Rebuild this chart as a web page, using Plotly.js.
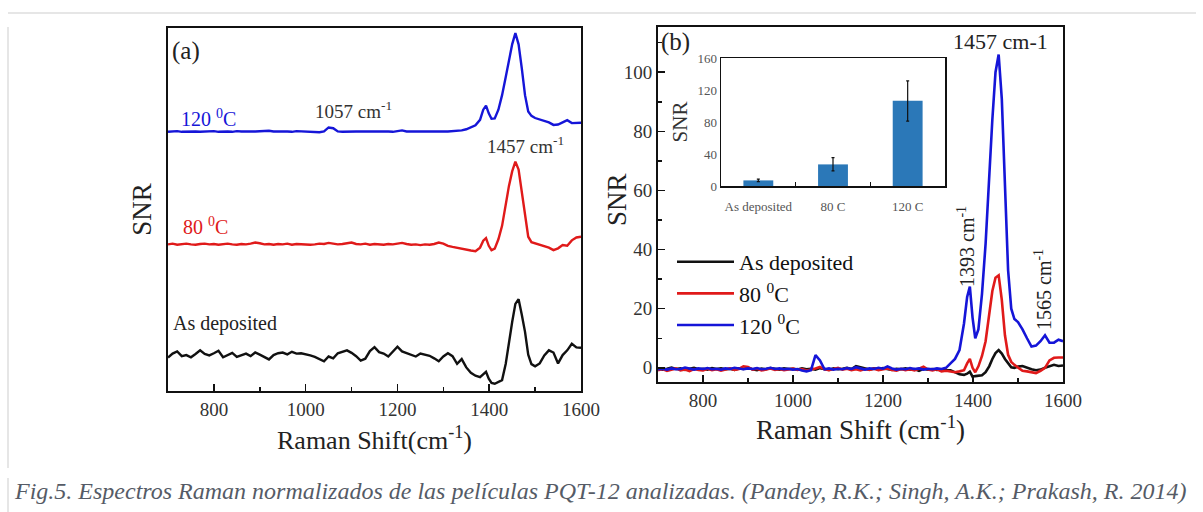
<!DOCTYPE html>
<html><head><meta charset="utf-8">
<script src="https://cdn.plot.ly/plotly-3.0.1.min.js"></script>
<style>html,body{margin:0;padding:0;background:#fff;} #chart{width:1203px;height:512px;}</style>
</head><body><div id="chart"></div>
<script>
// Raman shift grid (cm^-1)
const shift = [700,710,720,730,740,750,760,770,780,790,
800,810,820,830,840,850,860,870,880,890,
900,910,920,930,940,950,960,970,980,990,
1000,1010,1020,1030,1040,1050,1060,1070,1080,1090,
1100,1110,1120,1130,1140,1150,1160,1170,1180,1190,
1200,1210,1220,1230,1240,1250,1260,1270,1280,1290,
1300,1310,1320,1330,1340,1350,1360,1370,1380,
1387,1393,1399,1405,1412,1420,1428,1436,1443,1450,1457,1464,1471,1478,1485,1492,1500,
1510,1520,1530,1540,1550,1560,1570,1580,1590,1600];

// Panel (a): offset normalized spectra (arbitrary offset units)
const a120 = [71.4,71.5,71.6,71.4,71.5,71.6,71.5,71.4,71.5,71.5,
71.6,71.4,71.5,71.5,71.4,71.6,71.5,71.4,71.5,71.5,
71.6,71.5,71.7,71.5,71.4,71.5,71.5,71.4,71.6,71.5,
71.4,71.5,71.4,71.3,71.5,72.6,72.4,71.5,71.4,71.5,
71.4,71.5,71.5,71.4,71.5,71.5,71.4,71.5,71.5,71.4,
71.6,71.8,71.5,71.4,71.5,71.5,71.4,71.5,71.5,71.4,
71.5,71.5,71.6,71.6,71.8,72.1,72.6,73.2,74.7,
77.5,78.6,76.5,75.0,75.1,77.5,81.5,86.5,91.0,95.5,98.6,95.5,88.9,81.5,77.0,75.8,75.2,
74.8,74.3,74.0,73.3,73.4,74.0,74.6,73.8,73.8,73.9];
const a80 = [40.4,40.6,40.3,40.5,40.6,40.4,40.3,40.5,40.6,40.4,
40.5,40.3,40.5,40.6,40.4,40.3,40.5,40.4,40.6,40.9,
40.7,40.4,40.5,40.3,40.5,40.4,40.6,40.3,40.5,40.4,
40.5,40.3,40.4,40.6,40.5,40.8,40.6,40.4,40.5,40.7,
40.9,40.5,40.4,40.6,40.3,40.5,40.4,40.3,40.5,40.4,
40.6,40.8,40.5,40.3,40.4,40.2,40.4,40.3,40.5,40.9,
40.6,40.0,39.7,39.4,39.2,39.0,38.7,38.5,39.5,
41.4,42.1,40.0,38.8,39.2,41.8,45.5,51.5,56.5,60.5,63.2,61.0,55.0,48.0,42.5,41.0,40.7,
40.3,39.8,39.5,38.8,39.3,40.2,40.0,41.5,42.3,42.5];
const aAsDep = [9.2,10.3,10.9,9.6,9.9,9.3,10.2,11.2,10.2,9.8,
10.4,11.1,9.3,9.9,10.5,9.4,9.9,10.3,9.6,10.6,
10.0,9.4,8.7,9.9,10.4,10.6,10.1,10.8,10.3,10.4,
10.2,9.8,9.4,8.9,8.2,9.5,9.0,10.4,10.8,11.2,
10.5,9.6,8.4,8.9,11.0,12.1,10.7,10.3,9.5,10.8,
12.2,10.9,10.4,9.8,9.5,10.3,9.9,9.7,9.0,8.2,
9.5,10.4,9.6,7.5,8.8,6.5,5.0,4.2,3.8,
4.5,5.3,3.4,2.2,2.0,2.6,3.0,7.5,13.5,19.0,24.0,25.3,21.0,16.3,10.0,7.4,6.8,
7.6,9.8,11.2,10.6,7.6,9.9,11.2,13.0,12.0,11.9];

// Panel (b): SNR spectra
const b120 = [-0.5,-0.3,-0.6,-0.2,-0.5,-0.4,0.1,-0.3,-0.6,-0.2,
-0.4,-0.1,-0.5,-0.3,-0.6,-0.2,-0.4,0.0,-0.3,-0.5,
-0.2,-0.4,-0.1,-0.5,-0.3,0.0,-0.4,-0.2,-0.5,-0.3,
-0.6,-0.4,-0.9,-1.2,-0.8,4.3,2.5,-0.5,-0.2,-0.6,
-0.3,-0.5,-0.1,-0.4,0.2,-0.3,-0.6,-0.2,-0.4,0.0,
-0.3,0.5,-0.2,-0.6,-0.3,-0.5,-0.1,-0.4,-0.2,-0.6,
-0.3,-0.5,-0.2,-0.4,0.0,1.5,3.0,6.0,15.0,
24.0,27.5,17.0,10.0,13.0,25.0,42.0,65.0,84.0,100.0,106.0,91.0,59.6,33.0,20.0,16.5,15.5,
13.0,10.0,7.2,7.5,9.0,11.0,8.5,8.5,9.5,9.0];
const b80 = [-0.8,-0.4,-1.0,-0.5,-0.2,-0.9,-0.6,-1.1,-0.4,-0.7,
-0.9,-0.3,-0.8,-0.5,-1.0,-0.6,-0.2,-0.7,-0.4,0.5,
0.3,-0.6,-0.3,-0.9,-0.5,-0.2,-0.7,-0.4,-0.8,-0.5,
-0.3,-0.7,-0.4,-0.9,-0.6,-0.2,0.3,-0.5,-0.8,-0.4,
0.0,-0.6,-0.3,-0.8,-0.5,-0.9,-0.4,-0.7,-0.3,-0.8,
-0.5,-0.2,-0.7,-1.0,-0.4,-0.8,-0.5,-0.9,-0.3,0.4,
-0.6,-0.9,-0.5,-1.2,-1.0,-1.3,-1.5,-1.2,-0.8,
1.5,3.0,0.0,-1.5,0.5,4.0,9.0,19.0,26.0,30.5,31.3,23.0,11.0,4.4,2.0,1.0,0.0,
-1.0,-1.2,-1.5,-1.8,-1.0,0.0,2.5,3.4,3.5,3.5];
const bAsDep = [-0.2,-0.6,-0.3,0.1,-0.4,-0.2,-0.7,-0.3,0.0,-0.5,
-0.3,-0.6,-0.1,-0.4,-0.2,-0.5,-0.3,-0.7,-0.2,-0.4,
0.0,-0.5,-0.8,-0.3,-0.5,-0.1,-0.4,-0.6,-0.2,-0.4,
-0.3,-0.6,-0.2,-0.5,-0.3,-0.6,-0.1,-0.4,-0.7,-0.2,
-0.5,-0.3,0.0,-0.4,0.6,0.2,-0.3,-0.6,-0.2,-0.5,
-0.1,-0.4,-0.7,-0.3,-0.5,-0.2,-0.6,-0.4,-1.0,-0.3,
-0.6,-0.4,-0.7,-0.5,-0.8,-0.8,-1.5,-2.2,-2.4,
-2.0,-1.3,-3.0,-2.8,-2.6,-2.5,-1.5,0.5,3.0,5.0,6.0,4.8,3.0,1.5,0.2,0.0,0.4,
0.6,0.0,-0.5,-0.8,-0.6,0.0,0.5,1.0,0.6,0.8];

// Inset bar chart
const insetCats = ['As deposited', '80 C', '120 C'];
const insetSNR = [7, 27, 106.5];
const insetErrPlus = [1.5, 8.5, 25];
const insetErrMinus = [1.5, 8, 25.5];

const BLUE = '#1515d8', RED = '#e01a1a', BLACK = '#111111';
const SERIF = 'Liberation Serif';
const W = 1203, H = 512;
const px = v => v / W, py = v => 1 - v / H;

const traces = [
  {x: shift, y: a120, xaxis: 'x', yaxis: 'y', mode: 'lines', line: {color: BLUE, width: 2.4}, showlegend: false, name: '120 °C (a)'},
  {x: shift, y: a80, xaxis: 'x', yaxis: 'y', mode: 'lines', line: {color: RED, width: 2.4}, showlegend: false, name: '80 °C (a)'},
  {x: shift, y: aAsDep, xaxis: 'x', yaxis: 'y', mode: 'lines', line: {color: BLACK, width: 2.4}, showlegend: false, name: 'As deposited (a)'},
  {x: shift, y: bAsDep, xaxis: 'x2', yaxis: 'y2', mode: 'lines', line: {color: BLACK, width: 2.6}, name: 'As deposited'},
  {x: shift, y: b80, xaxis: 'x2', yaxis: 'y2', mode: 'lines', line: {color: RED, width: 2.6}, name: '80 <sup>0</sup>C'},
  {x: shift, y: b120, xaxis: 'x2', yaxis: 'y2', mode: 'lines', line: {color: BLUE, width: 2.6}, name: '120 <sup>0</sup>C'},
  {type: 'bar', x: insetCats, y: insetSNR, xaxis: 'x3', yaxis: 'y3', width: 0.4,
   marker: {color: '#2b78b8', line: {width: 0}}, showlegend: false,
   error_y: {type: 'data', array: insetErrPlus, arrayminus: insetErrMinus, visible: true, color: '#111', thickness: 1.2, width: 1.5}}
];

const frameAxis = {showline: true, linewidth: 2, linecolor: '#111', mirror: true, showgrid: false, zeroline: false};
const tickFont = {family: SERIF, size: 19, color: '#333'};

const layout = {
  width: W, height: H, margin: {l: 0, r: 0, t: 0, b: 0},
  paper_bgcolor: '#ffffff', plot_bgcolor: 'rgba(0,0,0,0)',
  font: {family: SERIF, color: '#222'},
  showlegend: true,
  legend: {x: px(672), y: py(241), xanchor: 'left', yanchor: 'top', bgcolor: 'rgba(0,0,0,0)',
           font: {family: SERIF, size: 22, color: '#111'}, itemwidth: 57, tracegroupgap: 0},
  xaxis: Object.assign({}, frameAxis, {
    domain: [px(168), px(581)], range: [700, 1600], anchor: 'y',
    ticks: 'inside', ticklen: 7, tickwidth: 1.5, tickcolor: '#111', tick0: 0, dtick: 200,
    minor: {ticks: 'inside', ticklen: 4, tickwidth: 1.5, tickcolor: '#111', tick0: 0, dtick: 100},
    tickfont: tickFont,
    title: {text: 'Raman Shift(cm<sup>-1</sup>)', font: {family: SERIF, size: 26, color: '#222'}, standoff: 12}
  }),
  yaxis: Object.assign({}, frameAxis, {
    domain: [py(391), py(28)], range: [0, 100], anchor: 'x',
    showticklabels: false, ticks: '',
    title: {text: 'SNR', font: {family: SERIF, size: 27, color: '#222'}, standoff: 7}
  }),
  xaxis2: Object.assign({}, frameAxis, {
    domain: [px(658), px(1063)], range: [700, 1600], anchor: 'y2',
    ticks: 'inside', ticklen: 7, tickwidth: 1.5, tickcolor: '#111', tick0: 0, dtick: 200,
    minor: {ticks: 'inside', ticklen: 4, tickwidth: 1.5, tickcolor: '#111', tick0: 0, dtick: 100},
    tickfont: tickFont,
    title: {text: 'Raman Shift (cm<sup>-1</sup>)', font: {family: SERIF, size: 27, color: '#222'}, standoff: 9}
  }),
  yaxis2: Object.assign({}, frameAxis, {
    domain: [py(382), py(27)], range: [-4.8, 115.3], anchor: 'x2',
    ticks: 'inside', ticklen: 7, tickwidth: 1.5, tickcolor: '#111', tick0: 0, dtick: 20,
    minor: {ticks: 'inside', ticklen: 4, tickwidth: 1.5, tickcolor: '#111', tick0: 0, dtick: 10},
    tickfont: tickFont
  }),
  xaxis3: {
    domain: [px(721), px(945)], anchor: 'y3', type: 'category', range: [-0.5, 2.5],
    showline: true, linewidth: 1.5, linecolor: '#111', mirror: true, showgrid: false, zeroline: false,
    tickson: 'boundaries', ticks: 'inside', ticklen: 4, tickwidth: 1.5, tickcolor: '#111', tickangle: 0,
    tickfont: {family: SERIF, size: 13, color: '#555'}, ticklabelstandoff: 8
  },
  yaxis3: {
    domain: [py(186), py(58)], anchor: 'x3', range: [0, 160], dtick: 40,
    showline: true, linewidth: 1.5, linecolor: '#111', mirror: true, showgrid: false, zeroline: false,
    ticks: '', tickfont: {family: SERIF, size: 13, color: '#555'},
    title: {text: 'SNR', font: {family: SERIF, size: 21, color: '#333'}, standoff: 4}
  },
  shapes: [
    {type: 'line', xref: 'paper', yref: 'paper', x0: px(8), x1: px(1196), y0: py(13), y1: py(13), line: {color: '#e6e6e6', width: 2}, layer: 'below'},
    {type: 'line', xref: 'paper', yref: 'paper', x0: px(8), x1: px(8), y0: py(27), y1: py(468), line: {color: '#e6e6e6', width: 2}, layer: 'below'},
    {type: 'line', xref: 'paper', yref: 'paper', x0: px(8), x1: px(8), y0: py(478), y1: py(512), line: {color: '#e6e6e6', width: 2}, layer: 'below'}
  ],
  annotations: [
    {text: 'SNR', xref: 'paper', yref: 'paper', x: px(617), y: py(200), xanchor: 'center', yanchor: 'middle', textangle: -90, showarrow: false, font: {family: SERIF, size: 27, color: '#222'}},
    {text: '(a)', xref: 'paper', yref: 'paper', x: px(170), y: py(51), xanchor: 'left', yanchor: 'middle', showarrow: false, font: {family: SERIF, size: 25, color: '#222'}},
    {text: '120 <sup>0</sup>C', xref: 'paper', yref: 'paper', x: px(179), y: py(118), xanchor: 'left', yanchor: 'middle', showarrow: false, font: {family: SERIF, size: 20, color: BLUE}},
    {text: '1057 cm<sup>-1</sup>', xref: 'paper', yref: 'paper', x: px(353), y: py(110), xanchor: 'center', yanchor: 'middle', showarrow: false, font: {family: SERIF, size: 19, color: '#333'}},
    {text: '1457 cm<sup>-1</sup>', xref: 'paper', yref: 'paper', x: px(525), y: py(145), xanchor: 'center', yanchor: 'middle', showarrow: false, font: {family: SERIF, size: 19, color: '#333'}},
    {text: '80 <sup>0</sup>C', xref: 'paper', yref: 'paper', x: px(181), y: py(226), xanchor: 'left', yanchor: 'middle', showarrow: false, font: {family: SERIF, size: 20, color: RED}},
    {text: 'As deposited', xref: 'paper', yref: 'paper', x: px(171), y: py(323), xanchor: 'left', yanchor: 'middle', showarrow: false, font: {family: SERIF, size: 20, color: '#222'}},
    {text: '(b)', xref: 'paper', yref: 'paper', x: px(659), y: py(42), xanchor: 'left', yanchor: 'middle', showarrow: false, font: {family: SERIF, size: 25, color: '#222'}},
    {text: '1457 cm-1', xref: 'paper', yref: 'paper', x: px(1001), y: py(41), xanchor: 'center', yanchor: 'middle', showarrow: false, font: {family: SERIF, size: 22, color: '#222'}},
    {text: '1393 cm<sup>-1</sup>', xref: 'paper', yref: 'paper', x: px(966), y: py(246), xanchor: 'center', yanchor: 'middle', textangle: -90, showarrow: false, font: {family: SERIF, size: 20, color: '#222'}},
    {text: '1565 cm<sup>-1</sup>', xref: 'paper', yref: 'paper', x: px(1043), y: py(290), xanchor: 'center', yanchor: 'middle', textangle: -90, showarrow: false, font: {family: SERIF, size: 20, color: '#222'}},
    {text: '<i>Fig.5. Espectros Raman normalizados de las películas PQT-12 analizadas. (Pandey, R.K.; Singh, A.K.; Prakash, R. 2014)</i>',
     xref: 'paper', yref: 'paper', x: px(12), y: py(491), xanchor: 'left', yanchor: 'middle', showarrow: false,
     font: {family: SERIF, size: 24, color: '#555b66'}}
  ]
};

Plotly.newPlot('chart', traces, layout, {displayModeBar: false, staticPlot: true});
</script>
</body></html>
